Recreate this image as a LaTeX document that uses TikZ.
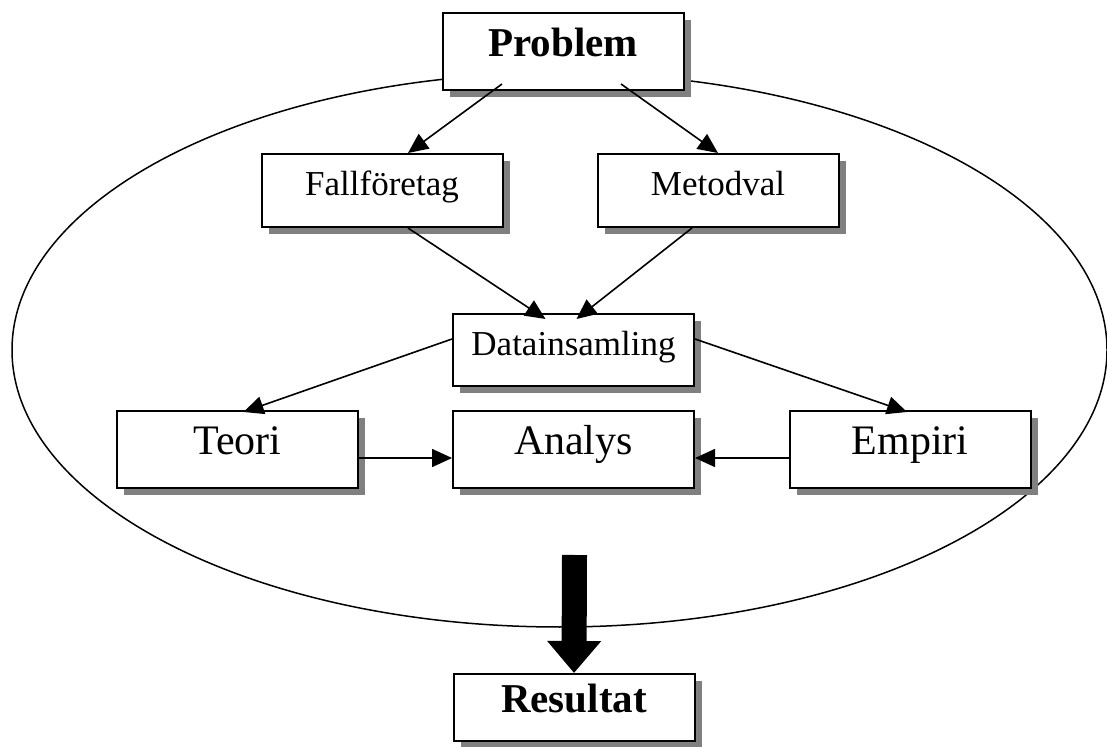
\documentclass[tikz,border=0pt]{standalone}
\usepackage{fontspec}
\setmainfont{Liberation Serif}
\usetikzlibrary{arrows.meta,shadows,calc,shapes.geometric}
\begin{document}
\begin{tikzpicture}[x=0.5pt,y=-0.5pt,
  box/.style={draw=black,line width=1pt,fill=white,rectangle,inner sep=0pt,
    minimum width=120.5pt,text height=0.68em,text depth=0.16em,
    drop shadow={shadow xshift=3.5pt,shadow yshift=-3.5pt,fill=black!50,opacity=1}},
  smalltxt/.style={font=\fontsize{17.5}{20}\selectfont},
  midtxt/.style={font=\fontsize{21}{24}\selectfont},
  boldtxt/.style={font=\fontsize{20.5}{24}\selectfont\bfseries},
  conn/.style={line width=0.8pt,-{Triangle[length=10pt,width=9pt]}},
  bigarrow/.style={line width=12.5pt,-{Triangle[length=16pt,width=26pt]},shorten >=0pt}]
\useasboundingbox (0,0) rectangle (1107,747);
\node[ellipse,draw,line width=0.75pt,minimum width=547.5pt,minimum height=277pt,inner sep=0pt] (scope) at (559.5,350) {};
\node[box,boldtxt,minimum height=38.5pt] (problem) at (563,51.5) {Problem};
\node[box,smalltxt,minimum height=36.5pt] (fall) at (382,190.5) {Fallföretag};
\node[box,smalltxt,minimum height=36.5pt] (meto) at (718,190.5) {Metodval};
\node[box,smalltxt,minimum height=36pt] (data) at (573.5,350) {Datainsamling};
\node[box,midtxt,minimum height=38.5pt] (teori) at (237.5,449.5) {Teori};
\node[box,midtxt,minimum height=38.5pt] (analys) at (573.5,449.5) {Analys};
\node[box,midtxt,minimum height=38.5pt] (empiri) at (910,449.5) {Empiri};
\node[box,boldtxt,minimum height=33.5pt] (result) at (574,707.5) {Resultat};
\draw[conn] ($(problem.south)+(-61,-7)$) -- ($(fall.north)+(26,0)$);
\draw[conn] ($(problem.south)+(58,-7)$) -- (meto.north);
\draw[conn] ($(fall.south)+(26,0)$) -- ($(data.north)+(-28,6)$);
\draw[conn] ($(meto.south)+(-26,0)$) -- ($(data.north)+(3,6)$);
\draw[conn] ($(data.west)+(0,-11)$) -- ($(teori.north)+(6,2)$);
\draw[conn] ($(data.east)+(0,-11)$) -- ($(empiri.north)+(-3,2)$);
\draw[conn] ($(teori.east)+(0,8.5)$) -- ($(analys.west)+(0,8.5)$);
\draw[conn] ($(empiri.west)+(0,8.5)$) -- ($(analys.east)+(0,8.5)$);
\coordinate (bigstart) at (574.5,555);
\draw[bigarrow] (bigstart) -- (result.north);
\end{tikzpicture}
\end{document}
